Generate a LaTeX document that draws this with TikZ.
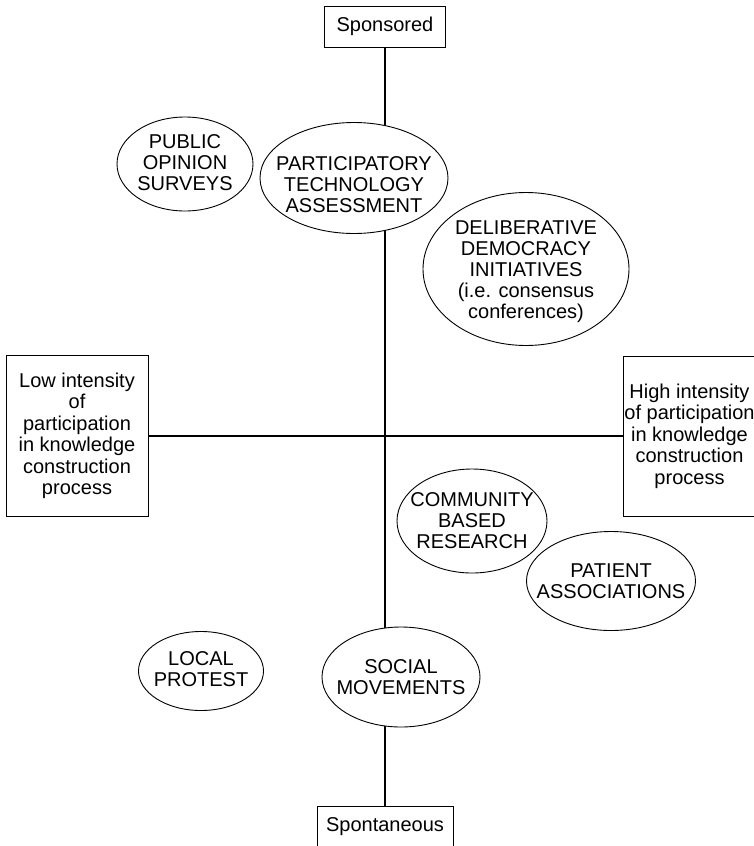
\documentclass[tikz,border=0pt]{standalone}
\usepackage{fontspec}
\setmainfont{Liberation Sans}

\begin{document}
\begin{tikzpicture}[x=1pt,y=-1pt,
    every node/.style={font=\fontsize{20}{21}\selectfont,align=center,inner sep=0pt},
    pole node/.style={rectangle,draw,fill=white,line width=0.9pt},
    oval/.style={draw,fill=white,line width=0.9pt},
    axis/.style={draw,line width=2pt}]
    \path[use as bounding box,clip] (0,0) rectangle (754,846);
    \node[pole node,minimum width=121pt,minimum height=41pt] (top) at (385,26.5) {Sponsored};
    \node[pole node,minimum width=136pt,minimum height=41pt] (bottom) at (385,827) {Spontaneous};
    \node[pole node,minimum width=142pt,minimum height=161pt,font=\fontsize{20}{21.5}\selectfont] (low) at (77,436)
        {Low intensity\\of\\participation\\in knowledge\\construction\\process};
    \node[pole node,minimum width=133pt,minimum height=160pt,font=\fontsize{20}{21.5}\selectfont] (high) at (689.5,436)
        {High intensity\\of participation\\in knowledge\\construction\\process};
    \path[axis]
    (top) edge (bottom)
    (low) edge (high);
    % forms of participation
    \draw[oval] (185,164) ellipse (68 and 47);
    \node (pos) at (185,163) {PUBLIC\\OPINION\\SURVEYS};
    \draw[oval] (354,178) ellipse (94 and 55.5);
    \node (pta) at (354,185) {PARTICIPATORY\\TECHNOLOGY\\ASSESSMENT};
    \draw[oval] (526,269) ellipse (103 and 76.5);
    \node (ddi) at (526,272) {DELIBERATIVE\\DEMOCRACY\\INITIATIVES\\(i.e. consensus\\conferences)};
    \draw[oval] (472,521) ellipse (75 and 52);
    \node (cbr) at (472,521) {COMMUNITY\\BASED\\RESEARCH};
    \draw[oval] (611,581) ellipse (84.5 and 49.5);
    \node (pat) at (611,581) {PATIENT\\ASSOCIATIONS};
    \draw[oval] (201,671) ellipse (62.5 and 39.5);
    \node (lpr) at (201,669) {LOCAL\\PROTEST};
    \draw[oval] (401,677) ellipse (79 and 50);
    \node (smo) at (401,677) {SOCIAL\\MOVEMENTS};
\end{tikzpicture}
\end{document}
